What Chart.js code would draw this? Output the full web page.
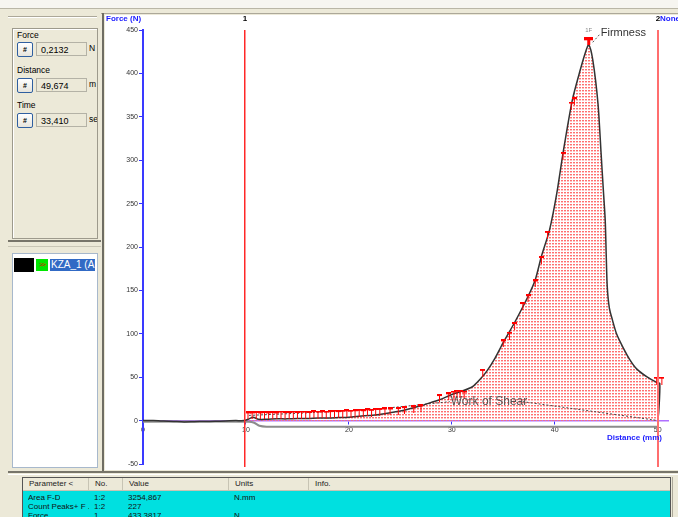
<!DOCTYPE html>
<html>
<head>
<meta charset="utf-8">
<script src="https://cdn.jsdelivr.net/npm/chart.js@4.4.1/dist/chart.umd.min.js"></script>
<style>
  html,body{margin:0;padding:0;}
  body{width:678px;height:517px;background:#ECE9D8;overflow:hidden;position:relative;
       font-family:"Liberation Sans",Arial,sans-serif;font-size:8.5px;color:#000;}
  .abs{position:absolute;}
  .btn{position:absolute;width:14px;height:13px;border:1px solid #2f5fa0;border-radius:2px;
       background:linear-gradient(#ffffff,#e6e4dc);font-weight:bold;font-size:7px;text-align:center;line-height:13px;}
  .box{position:absolute;width:51px;height:14px;border:1px solid #b4b2a6;background:#ECE9D8;
       line-height:14px;padding-left:4px;box-sizing:border-box;font-size:9px;}
  .hdr{position:absolute;top:0;height:12px;line-height:12px;border-right:1px solid #c7c4b4;box-sizing:border-box;padding-left:6px;color:#222;font-size:8px;}
  .cell{position:absolute;height:9px;line-height:9px;white-space:nowrap;color:#111;overflow:hidden;font-size:8px;}
</style>
</head>
<body>
<!-- top strip -->
<div class="abs" style="left:0;top:0;width:678px;height:8px;background:#f6f5f0;border-bottom:1px solid #b9b6a6;"></div>
<!-- left panel -->
<div class="abs" style="left:8px;top:16px;width:89px;height:1px;background:#aca899;"></div>
<div class="abs" style="left:8px;top:17px;width:89px;height:1px;background:#fff;"></div>
<div class="abs" style="left:12px;top:28px;width:84px;height:209px;border:1px solid #9d9a8c;box-shadow:inset 1px 1px 0 #fff;"></div>
<div class="abs" style="left:17px;top:30px;">Force</div>
<div class="btn" style="left:17px;top:42px;">#</div>
<div class="box" style="left:36px;top:42px;">0,2132</div>
<div class="abs" style="left:89px;top:43px;">N</div>
<div class="abs" style="left:17px;top:65px;">Distance</div>
<div class="btn" style="left:17px;top:78px;">#</div>
<div class="box" style="left:36px;top:78px;">49,674</div>
<div class="abs" style="left:89px;top:79px;width:8px;overflow:hidden;">m</div>
<div class="abs" style="left:17px;top:100px;">Time</div>
<div class="btn" style="left:17px;top:113px;">#</div>
<div class="box" style="left:36px;top:113px;">33,410</div>
<div class="abs" style="left:89px;top:114px;width:8px;overflow:hidden;">se</div>
<div class="abs" style="left:8px;top:240px;width:93px;height:2px;background:#77756a;"></div>
<div class="abs" style="left:8px;top:246px;width:93px;height:1px;background:#c9c6b6;"></div>
<div class="abs" style="left:12px;top:253px;width:84px;height:213px;background:#fff;border:1px solid #a7b8cc;"></div>
<div class="abs" style="left:14px;top:258px;width:20px;height:14px;background:#000;"></div>
<div class="abs" style="left:36px;top:259px;width:12px;height:12px;background:#00e600;color:#e00000;font-size:7px;line-height:12px;text-align:center;letter-spacing:-1px;">&gt;&gt;</div>
<div class="abs" style="left:50px;top:259px;width:45px;height:12px;background:#316ac5;color:#fff;font-size:10px;line-height:12px;padding-left:1px;overflow:hidden;white-space:nowrap;box-sizing:border-box;">KZA_1 (AR</div>
<!-- chart frame -->
<div class="abs" style="left:101px;top:13px;width:577px;height:1px;background:#aca899;"></div>
<div class="abs" style="left:102px;top:13px;width:2px;height:458px;background:#6f6d63;"></div>
<canvas id="c" width="573" height="455" class="abs" style="left:105px;top:15px;background:#fff;"></canvas>
<!-- bottom -->
<div class="abs" style="left:8px;top:471px;width:670px;height:2px;background:#77756a;"></div>
<div class="abs" style="left:8px;top:474px;width:670px;height:1px;background:#fff;"></div>
<div class="abs" style="left:22px;top:477px;width:648px;height:40px;background:#00e0e0;border-left:1px solid #555;border-top:1px solid #555;box-sizing:border-box;overflow:hidden;" id="tbl">
  <div class="abs" style="left:0;top:0;width:648px;height:12px;background:#ECE9D8;border-bottom:1px solid #c7c4b4;"></div>
</div>
<div class="abs" style="left:670px;top:477px;width:1px;height:40px;background:#555;"></div>
<div class="abs" style="left:672px;top:477px;width:1px;height:40px;background:#aca899;"></div>

<script>
// ---------------- data ----------------
const curveD = [0,1,2,3,4,5,6,7,8,9,9.8,10.3,10.7,11.2,12,13,14,15,16,17,18,19,20,21,22,23,24,25,26,27,28,28.8,30,31,32,32.7,33.4,34.2,35.0,36.1,37.4,38.1,38.7,39.5,40.2,40.8,41.7,42.5,43.0,43.3,43.7,44.2,44.5,44.7,44.9,45.0,45.1,45.3,45.6,46.0,46.6,47.3,48.0,49.0,49.9,50.2,50.1,50.0];
const curveF = [0,0,-0.5,-1,-1.5,-1.2,-1,-0.8,-0.5,0,0,2,4,1.5,1.5,2,2,2.5,2.5,3,3,3.5,4,5,6,7,9,11,14,17,21,24,30,34,39,47,57,72,90,113,143,162,189,220,262,308,369,405,425,433,415,365,308,269,231,190,154,130,116,100,85,70,59,50,44,43,10,0];

const baseD = [0,10.3,10.8,11.3,12,50];
const baseF = [-1.2,-1.2,-2.5,-6,-7,-7];

const peakMarkD = [10.2,10.6,11.0,11.4,11.8,12.2,12.6,13.0,13.4,13.8,14.2,14.6,15.0,15.4,15.8,16.2,16.6,17.0,17.4,17.8,18.2,18.6,19.0,19.4,19.8,20.2,20.6,21.0,21.4,21.8,22.2,22.6,23.0,23.5,24.0,24.8,25.4,26.3,27.0,28.8,29.7,30.2,30.5,30.8,31.2,33.0,35.0,35.6,36.1,36.9,37.4,38.1,38.7,39.3,40.8,41.6,41.9,49.9,50.4];
const peakMarkF = [6,6,6.5,6,6.5,6,6.5,6,7,6.5,6.5,7,6.5,7,7,6.5,7.5,7,7.5,7,7.5,8,7.5,8,8.5,8,8.5,9,8.5,9.5,9,10,10,10.5,10.5,11,12,13,14,26,28,30,31,31,30,55,89,98,109,132,141,158,185,214,305,363,368,46,46];

const firmD = [43.3];
const firmF = [437];

const shearD1 = [10.3,16,23,29.8];
const shearF1 = [6,9,13.8,21.8];
const shearD2 = [36.9,49.5,50.0];
const shearF2 = [21.8,1,0];

const cursorD = [9.9, 50.0];
const cursorLabels = ['1','2'];

const yTicks = [-50,0,50,100,150,200,250,300,350,400,450];
const xTicks = [0,10,20,30,40,50];

const tableHeaders = ['Parameter <','No.','Value','Units','Info.'];
const tableRows = [
  ['Area F-D','1:2','3254,867','N.mm',''],
  ['Count Peaks+ F ...','1:2','227','',''],
  ['Force','1','433,3817','N','']
];

// ---------------- table ----------------
const tbl = document.getElementById('tbl');
const colX = [0,66,100,206,286];
const colW = [66,34,106,80,362];
tableHeaders.forEach((h,i)=>{
  const d=document.createElement('div'); d.className='hdr';
  d.style.left=colX[i]+'px'; d.style.width=colW[i]+'px'; d.textContent=h; tbl.appendChild(d);
});
tableRows.forEach((r,ri)=>{
  r.forEach((t,ci)=>{
    if(!t) return;
    const d=document.createElement('div'); d.className='cell';
    d.style.left=(colX[ci]+5)+'px'; d.style.top=(15+ri*9)+'px'; d.style.maxWidth=(colW[ci]-5)+'px';
    d.textContent=t; tbl.appendChild(d);
  });
});

// ---------------- chart ----------------
const pts = (xs,ys)=>xs.map((v,i)=>({x:v,y:ys[i]}));
const canvas = document.getElementById('c');
const cctx = canvas.getContext('2d');

const pc = document.createElement('canvas'); pc.width=3; pc.height=3;
const pg = pc.getContext('2d');
pg.fillStyle='#ff7070'; pg.fillRect(0,0,2,1);
pg.fillStyle='#ffc4c4'; pg.fillRect(0,1,2,1);
const hatch = cctx.createPattern(pc,'repeat');

function tImg(w,h,bar,stem,col){
  const c=document.createElement('canvas'); c.width=w; c.height=h;
  const g=c.getContext('2d'); g.fillStyle=col;
  g.fillRect(0,0,w,bar); g.fillRect(Math.floor((w-stem)/2),0,stem,h);
  return c;
}
const tSmall = tImg(5,8,2,1,'#ff0000');
const tBig = tImg(9,8,3,3,'#ff0000');

const allCurve = pts(curveD,curveF);
const fillPts = allCurve.filter(p=>p.x>=9.8);

const overlay = {
  id:'overlay',
  afterDatasetsDraw(chart){
    const {ctx, scales:{x,y}, chartArea} = chart;
    ctx.save();
    // cursor lines
    cursorD.forEach((d,i)=>{
      const px=Math.round(x.getPixelForValue(d));
      ctx.fillStyle = i===0 ? 'rgba(255,40,40,1)' : 'rgba(255,110,110,1)';
      ctx.fillRect(px-1, chartArea.top, i===0 ? 1.5 : 2, chart.height-3-chartArea.top);
      ctx.fillStyle='#000'; ctx.font='bold 8px "Liberation Sans"';
      ctx.textAlign='center'; ctx.textBaseline='middle';
      ctx.fillText(cursorLabels[i], px, 4);
      if(i===1){ ctx.fillStyle='#1a1aff'; ctx.textAlign='left'; ctx.fillText('None', px+2, 4); }
    });
    // axis titles
    ctx.fillStyle='#1a1aff'; ctx.font='bold 8px "Liberation Sans"';
    ctx.textAlign='left'; ctx.textBaseline='middle';
    ctx.fillText('Force (N)', 1, 4);
    ctx.textAlign='right';
    ctx.fillText('Distance (mm)', 557, 423);
    // firmness annotation
    const fx=x.getPixelForValue(firmD[0]), fy=y.getPixelForValue(firmF[0]);
    ctx.strokeStyle='#555'; ctx.lineWidth=1; ctx.setLineDash([2,2]);
    ctx.beginPath(); ctx.moveTo(fx+4,fy+1); ctx.lineTo(fx+11,fy-7); ctx.stroke();
    ctx.setLineDash([]);
    ctx.fillStyle='#333'; ctx.font='11px "Liberation Sans"'; ctx.textAlign='left';
    ctx.fillText('Firmness', fx+12, fy-8);
    ctx.fillStyle='#888'; ctx.font='6px "Liberation Sans"'; ctx.textAlign='center';
    ctx.fillText('1F', fx, fy-11);
    // work of shear label
    ctx.fillStyle='#555'; ctx.font='12px "Liberation Sans"'; ctx.textAlign='left';
    ctx.fillText('Work of Shear', x.getPixelForValue(shearD1[shearD1.length-1])+1, y.getPixelForValue(shearF1[shearF1.length-1]));
    ctx.restore();
  }
};

new Chart(canvas, {
  type:'scatter',
  data:{datasets:[
    {data:fillPts, showLine:true, fill:'origin', backgroundColor:hatch, borderWidth:0, pointRadius:0, order:10},
    {data:pts(baseD,baseF), showLine:true, borderColor:'#8c8c8c', borderWidth:2, pointRadius:0, order:6},
    {data:allCurve, showLine:true, borderColor:'#333', borderWidth:1.5, pointRadius:0, order:5},
    {data:pts(shearD1,shearF1), showLine:true, borderColor:'#444', borderWidth:1, borderDash:[2,2], pointRadius:0, order:7},
    {data:pts(shearD2,shearF2), showLine:true, borderColor:'#444', borderWidth:1, borderDash:[2,2], pointRadius:0, order:4},
    {data:pts(peakMarkD,peakMarkF), showLine:false, pointStyle:tSmall, pointRadius:3, order:2},
    {data:pts(firmD,firmF), showLine:false, pointStyle:tBig, pointRadius:4, order:1}
  ]},
  options:{
    responsive:false, animation:false, devicePixelRatio:1,
    layout:{padding:{left:0,top:15,right:10,bottom:6}},
    plugins:{legend:{display:false}, tooltip:{enabled:false}},
    elements:{line:{tension:0.25}},
    scales:{
      x:{type:'linear', min:0, max:51, position:{y:0},
         afterBuildTicks:s=>{s.ticks=xTicks.map(v=>({value:v}));},
         grid:{drawOnChartArea:false, color:'#3333ff', tickLength:3},
         border:{color:'#b070ff', width:1.5},
         ticks:{font:{size:7,family:'Liberation Sans'}, color:'#333', padding:2, autoSkip:false}},
      y:{type:'linear', min:-50, max:450,
         afterBuildTicks:s=>{s.ticks=yTicks.map(v=>({value:v}));},
         afterFit:s=>{s.width=38;},
         grid:{drawOnChartArea:false, color:'#3333ff', tickLength:4},
         border:{color:'#3a3aff', width:2},
         ticks:{font:{size:7,family:'Liberation Sans'}, color:'#333', padding:1, autoSkip:false}}
    }
  },
  plugins:[overlay]
});
</script>
</body>
</html>
